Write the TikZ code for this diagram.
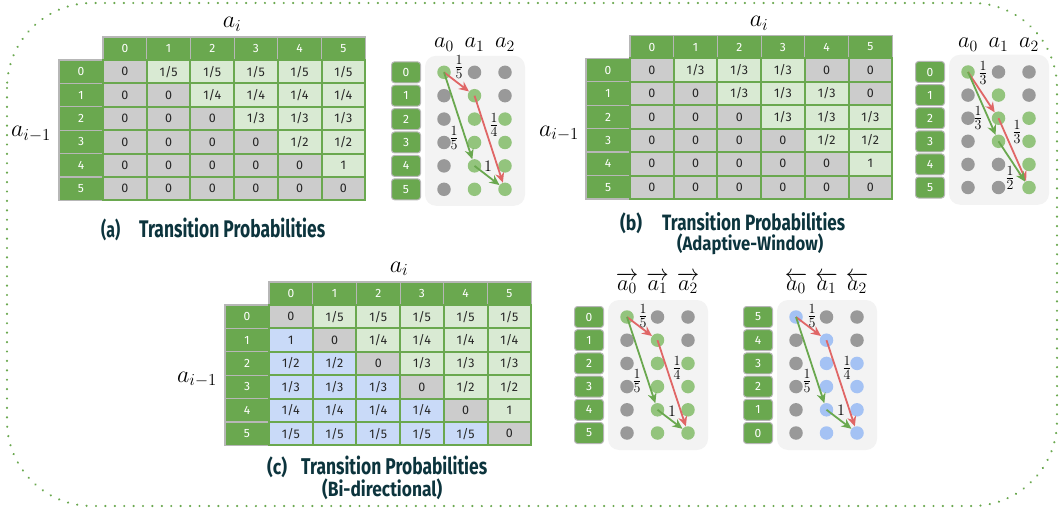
\RequirePackage{fix-cm}
\documentclass[tikz,border=0pt]{standalone}
\usepackage{fontspec}
\usepackage{amsmath}
\usepackage{graphicx}
\usetikzlibrary{arrows.meta}
\newfontfamily\tabfont{Fira Sans}
\newfontfamily\capfont{Fira Sans}
\definecolor{tgreen}{HTML}{6AA84F}
\definecolor{lgreen}{HTML}{D9EAD3}
\definecolor{cgray}{HTML}{CCCCCC}
\definecolor{lblue}{HTML}{C9DAF8}
\definecolor{hborder}{HTML}{B7B7B7}
\definecolor{dgreen}{HTML}{93C47D}
\definecolor{dgray}{HTML}{999999}
\definecolor{dblue}{HTML}{A4C2F4}
\definecolor{ared}{HTML}{E06666}
\definecolor{panelbg}{HTML}{F3F3F3}
\definecolor{captxt}{HTML}{0C343D}
\def\zerostr{0}
\tikzset{
  hdr/.style={rectangle, minimum width=43.7pt, minimum height=23pt, inner sep=0pt, fill=tgreen, draw=hborder, line width=1.2pt, text=white, font=\tabfont\fontsize{12}{13}\selectfont},
  cell/.style={rectangle, minimum width=43.7pt, minimum height=23.4pt, inner sep=0pt, draw=tgreen, line width=2pt, text=black!85, font=\tabfont\fontsize{12.5}{13}\selectfont},
  rlab/.style={rectangle, rounded corners=3pt, minimum width=29pt, minimum height=21pt, inner sep=0pt, fill=tgreen, draw=hborder, line width=1pt, text=white, font=\tabfont\fontsize{12}{13}\selectfont},
  bgpanel/.style={rectangle, rounded corners=11pt, minimum width=100pt, minimum height=150pt, fill=panelbg, inner sep=0pt},
  dot/.style={circle, minimum size=13.5pt, inner sep=0pt},
  tarrow/.style={-{Stealth[length=10pt,width=9pt]}, line width=1.8pt},
  rarr/.style={tarrow, draw=ared},
  garr/.style={tarrow, draw=tgreen},
  frl/.style={inner sep=0pt, font=\fontsize{20}{20}\selectfont},
  onel/.style={inner sep=0pt, font=\fontsize{16}{16}\selectfont},
  axlab/.style={inner sep=0pt, anchor=base, font=\fontsize{24}{24}\selectfont},
  collab/.style={inner sep=0pt, anchor=base, font=\fontsize{22.5}{23}\selectfont},
  captext/.style={inner sep=0pt, anchor=base west, text=captxt, font=\capfont\bfseries\fontsize{19}{20}\selectfont},
  framedot/.style={draw=tgreen, line width=2.4pt, line cap=round, dash pattern=on 0.01pt off 9.4pt},
}
% #1 name, #2 x left of data, #3 y top of data, #4 mode, #5 rows
\newcommand\probtable[5]{%
  \foreach \c in {0,...,5} \node[hdr] (#1-h\c) at ({#2+43.7*\c+21.85},{#3-11.5}) {\c};
  \foreach \r in {0,...,5} \node[hdr, minimum width=44pt, minimum height=23.4pt] (#1-l\r) at ({#2-22},{#3+23.4*\r+11.7}) {\r};
  \foreach \rowvals [count=\r from 0] in {#5} {
    \foreach \v [count=\c from 0] in \rowvals {
      \ifnum#4=0 \edef\cv{\v}\ifx\cv\zerostr\def\cc{cgray}\else\def\cc{lgreen}\fi
      \else\ifnum\c=\r\def\cc{cgray}\else\ifnum\c>\r\def\cc{lgreen}\else\def\cc{lblue}\fi\fi\fi
      \node[cell, fill=\cc] (#1-\r-\c) at ({#2+43.7*\c+21.85},{#3+23.4*\r+11.7}) {\v};
    }
  }
}
% #1 name, #2 x a0, #3 y row0, #4 dy, #5-#7 colours, #8 row labels
\newcommand\dotpanel[8]{%
  \node[bgpanel] (#1-bg) at ({#2+31},{#3+#4*2.5}) {};
  \foreach \cl [count=\r from 0] in {#5} \node[dot, fill=\cl] (#1-0-\r) at ({#2},{#3+#4*\r}) {};
  \foreach \cl [count=\r from 0] in {#6} \node[dot, fill=\cl] (#1-1-\r) at ({#2+30.5},{#3+#4*\r}) {};
  \foreach \cl [count=\r from 0] in {#7} \node[dot, fill=\cl] (#1-2-\r) at ({#2+61},{#3+#4*\r}) {};
  \foreach \t [count=\r from 0] in {#8} \node[rlab] (#1-l\r) at ({#2-38},{#3+#4*\r}) {\t};
}
\begin{document}
\begin{tikzpicture}[x=1pt,y=-1pt]
\useasboundingbox (0,0) rectangle (1060,508);
\draw[framedot, rounded corners=85pt] (7,3) rectangle (1057,506);

% ---------- (a) ----------
\probtable{ta}{103}{60}{0}{{0,1/5,1/5,1/5,1/5,1/5},{0,0,1/4,1/4,1/4,1/4},{0,0,0,1/3,1/3,1/3},{0,0,0,0,1/2,1/2},{0,0,0,0,0,1},{0,0,0,0,0,0}}
\node[axlab] (ta-ai) at (232,28) {$a_i$};
\node[axlab] (ta-aim) at (31,137) {$a_{i-1}$};
\node[captext] (ta-cap1) at (101,237) {\resizebox*{19pt}{22pt}{(a)}};
\node[captext] (ta-cap2) at (139,237) {\resizebox{186pt}{19.5pt}{Transition Probabilities}};

\dotpanel{pa}{444}{72.3}{23.4}{dgreen,dgray,dgray,dgray,dgray,dgray}{dgray,dgreen,dgreen,dgreen,dgreen,dgreen}{dgray,dgray,dgreen,dgreen,dgreen,dgreen}{0,1,2,3,4,5}
\node[collab] (pa-c0) at (444,48) {$a_0$};
\node[collab] (pa-c1) at (474.5,48) {$a_1$};
\node[collab] (pa-c2) at (505,48) {$a_2$};
\draw[rarr] (pa-0-0.center) -- (pa-1-1);
\draw[garr] (pa-0-0.center) -- (pa-1-4);
\draw[rarr] (pa-1-1.center) -- (pa-2-5);
\draw[garr] (pa-1-4.center) -- (pa-2-5);
\node[frl] (pa-f1) at (459,67) {$\frac{1}{5}$};
\node[frl] (pa-f2) at (454,138) {$\frac{1}{5}$};
\node[frl] (pa-f3) at (494,125) {$\frac{1}{4}$};
\node[onel] (pa-f4) at (488,166) {$1$};

% ---------- (b) ----------
\probtable{tb}{630}{58.5}{0}{{0,1/3,1/3,1/3,0,0},{0,0,1/3,1/3,1/3,0},{0,0,0,1/3,1/3,1/3},{0,0,0,0,1/2,1/2},{0,0,0,0,0,1},{0,0,0,0,0,0}}
\node[axlab] (tb-ai) at (759,27) {$a_i$};
\node[axlab] (tb-aim) at (559,136) {$a_{i-1}$};
\node[captext] (tb-cap1) at (620,230) {\resizebox*{22pt}{21pt}{(b)}};
\node[captext] (tb-cap2) at (662,230) {\resizebox{183pt}{18pt}{Transition Probabilities}};
\node[captext] (tb-cap3) at (677,250) {\resizebox*{146pt}{21pt}{(Adaptive-Window)}};

\dotpanel{pb}{968}{72}{23.1}{dgreen,dgray,dgray,dgray,dgray,dgray}{dgray,dgreen,dgreen,dgreen,dgray,dgray}{dgray,dgray,dgreen,dgreen,dgreen,dgreen}{0,1,2,3,4,5}
\node[collab] (pb-c0) at (968,48) {$a_0$};
\node[collab] (pb-c1) at (998.5,48) {$a_1$};
\node[collab] (pb-c2) at (1029,48) {$a_2$};
\draw[rarr] (pb-0-0.center) -- (pb-1-2);
\draw[garr] (pb-0-0.center) -- (pb-1-3);
\draw[rarr] (pb-1-2.center) -- (pb-2-5);
\draw[garr] (pb-1-3.center) -- (pb-2-5);
\node[frl] (pb-f1) at (983,73) {$\frac{1}{3}$};
\node[frl] (pb-f2) at (978,118) {$\frac{1}{3}$};
\node[frl] (pb-f3) at (1017,132) {$\frac{1}{3}$};
\node[frl] (pb-f4) at (1010,178) {$\frac{1}{2}$};

% ---------- (c) ----------
\probtable{tc}{269}{305}{1}{{0,1/5,1/5,1/5,1/5,1/5},{1,0,1/4,1/4,1/4,1/4},{1/2,1/2,0,1/3,1/3,1/3},{1/3,1/3,1/3,0,1/2,1/2},{1/4,1/4,1/4,1/4,0,1},{1/5,1/5,1/5,1/5,1/5,0}}
\node[axlab] (tc-ai) at (399,272) {$a_i$};
\node[axlab] (tc-aim) at (197,382) {$a_{i-1}$};
\node[captext] (tc-cap1) at (267,474) {\resizebox*{20pt}{21pt}{(c)}};
\node[captext] (tc-cap2) at (301,474) {\resizebox{186pt}{18.5pt}{Transition Probabilities}};
\node[captext] (tc-cap3) at (322,496) {\resizebox*{120pt}{21pt}{(Bi-directional)}};

\dotpanel{pc}{627}{317}{23.2}{dgreen,dgray,dgray,dgray,dgray,dgray}{dgray,dgreen,dgreen,dgreen,dgreen,dgreen}{dgray,dgray,dgreen,dgreen,dgreen,dgreen}{0,1,2,3,4,5}
\node[collab] (pc-c0) at (627,290) {$\overrightarrow{a_0}$};
\node[collab] (pc-c1) at (657.5,290) {$\overrightarrow{a_1}$};
\node[collab] (pc-c2) at (688,290) {$\overrightarrow{a_2}$};
\draw[rarr] (pc-0-0.center) -- (pc-1-1);
\draw[garr] (pc-0-0.center) -- (pc-1-4);
\draw[rarr] (pc-1-1.center) -- (pc-2-5);
\draw[garr] (pc-1-4.center) -- (pc-2-5);
\node[frl] (pc-f1) at (643,316) {$\frac{1}{5}$};
\node[frl] (pc-f2) at (637,381) {$\frac{1}{5}$};
\node[frl] (pc-f3) at (677,368) {$\frac{1}{4}$};
\node[onel] (pc-f4) at (672,411) {$1$};

\dotpanel{pd}{796}{317}{23.2}{dblue,dgray,dgray,dgray,dgray,dgray}{dgray,dblue,dblue,dblue,dblue,dblue}{dgray,dgray,dblue,dblue,dblue,dblue}{5,4,3,2,1,0}
\node[collab] (pd-c0) at (796,290) {$\overleftarrow{a_0}$};
\node[collab] (pd-c1) at (826.5,290) {$\overleftarrow{a_1}$};
\node[collab] (pd-c2) at (857,290) {$\overleftarrow{a_2}$};
\draw[rarr] (pd-0-0.center) -- (pd-1-1);
\draw[garr] (pd-0-0.center) -- (pd-1-4);
\draw[rarr] (pd-1-1.center) -- (pd-2-5);
\draw[garr] (pd-1-4.center) -- (pd-2-5);
\node[frl] (pd-f1) at (812,316) {$\frac{1}{5}$};
\node[frl] (pd-f2) at (807,381) {$\frac{1}{5}$};
\node[frl] (pd-f3) at (847,368) {$\frac{1}{4}$};
\node[onel] (pd-f4) at (841,410) {$1$};
\end{tikzpicture}
\end{document}
